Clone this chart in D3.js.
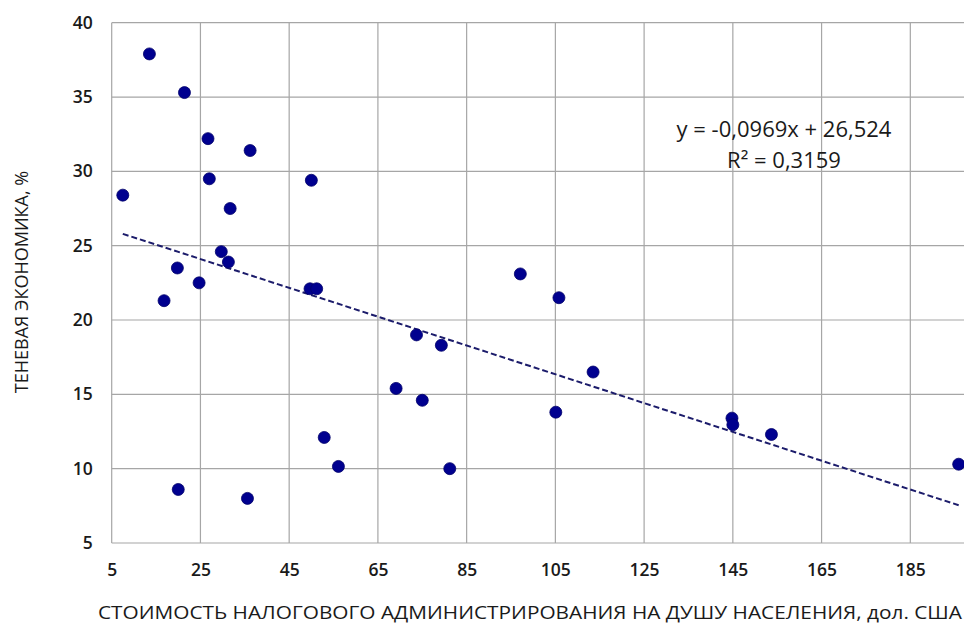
<!DOCTYPE html>
<html><head><meta charset="utf-8">
<script src="https://cdn.jsdelivr.net/npm/d3@7"></script>
<style>body{margin:0;background:#fff}svg{display:block}</style>
</head><body>
<svg id="c" width="964" height="626"></svg>
<script>
const xValues = [13.5,21.4,26.7,36.2,27.0,50.0,7.5,31.7,29.7,31.3,19.8,24.7,16.8,49.7,51.2,20.0,35.6,52.9,56.1,73.7,79.3,69.1,75.0,81.2,105.1,113.5,97.1,105.8,144.8,145.0,153.7,195.9];
const yValues = [37.9,35.3,32.2,31.4,29.5,29.4,28.4,27.5,24.6,23.9,23.5,22.5,21.3,22.1,22.1,8.6,8.0,12.1,10.15,19.0,18.3,15.4,14.6,10.0,13.8,16.5,23.1,21.5,13.4,12.95,12.3,10.3];
const xTicks = [5,25,45,65,85,105,125,145,165,185];
const yTicks = [5,10,15,20,25,30,35,40];
const slope = -0.0969, intercept = 26.524;
const eqLines = ["y = -0,0969x + 26,524", "R² = 0,3159"];
const xTitle = "СТОИМОСТЬ НАЛОГОВОГО АДМИНИСТРИРОВАНИЯ НА ДУШУ НАСЕЛЕНИЯ, дол. США";
const yTitle = "ТЕНЕВАЯ ЭКОНОМИКА, %";

const svg = d3.select("#c");
const L = 111.7, R = 964, T = 22.7, B = 543;
const x = d3.scaleLinear().domain([5, 197.1]).range([L, R]);
const y = d3.scaleLinear().domain([5, 40]).range([B, T]);
const font = "'Open Sans', sans-serif";

// grid
const g = svg.append("g");
g.selectAll(".vx").data(xTicks).join("line")
  .attr("x1", d => x(d)).attr("x2", d => x(d)).attr("y1", T).attr("y2", B)
  .attr("stroke", "#a6a6a6").attr("stroke-width", 1.2);
g.selectAll(".hy").data(yTicks).join("line")
  .attr("x1", L).attr("x2", R).attr("y1", d => y(d)).attr("y2", d => y(d))
  .attr("stroke", "#a6a6a6").attr("stroke-width", 1.2);

// axes labels via d3 axes
const xAxis = svg.append("g").attr("transform", `translate(0,${B})`)
  .call(d3.axisBottom(x).tickValues(xTicks).tickSize(0).tickPadding(21).tickFormat(d3.format("d")));
const yAxis = svg.append("g").attr("transform", `translate(${L},0)`)
  .call(d3.axisLeft(y).tickValues(yTicks).tickSize(0).tickPadding(19).tickFormat(d3.format("d")));
[xAxis, yAxis].forEach(a => {
  a.select(".domain").remove();
  a.selectAll("text").attr("font-family", font).attr("font-size", 17.5).attr("font-weight", 600).attr("fill", "#1a1a1a");
});

// trendline
const xmin = d3.min(xValues), xmax = d3.max(xValues);
svg.append("line")
  .attr("x1", x(xmin)).attr("y1", y(slope * xmin + intercept))
  .attr("x2", x(xmax)).attr("y2", y(slope * xmax + intercept))
  .attr("stroke", "#1c1c6b").attr("stroke-width", 2).attr("stroke-dasharray", "6,3");

// points
svg.append("g").selectAll("circle").data(xValues.map((v, i) => [v, yValues[i]])).join("circle")
  .attr("cx", d => x(d[0])).attr("cy", d => y(d[1])).attr("r", 6)
  .attr("fill", "#00008f").attr("stroke", "#00006a").attr("stroke-width", 0.8);

// equation
svg.append("g").selectAll("text").data(eqLines).join("text")
  .attr("x", 784).attr("y", (d, i) => 137 + i * 31)
  .attr("text-anchor", "middle").attr("font-family", font).attr("font-size", 22)
  .attr("fill", "#1a1a1a").text(d => d);

// titles
svg.append("text").attr("x", 530).attr("y", 619).attr("text-anchor", "middle")
  .attr("font-family", font).attr("font-size", 17.5).attr("fill", "#1a1a1a")
  .attr("textLength", 864).attr("lengthAdjust", "spacingAndGlyphs").text(xTitle);
svg.append("text").attr("transform", "translate(28,282) rotate(-90)").attr("text-anchor", "middle")
  .attr("font-family", font).attr("font-size", 18).attr("fill", "#1a1a1a").text(yTitle);
</script>
</body></html>
